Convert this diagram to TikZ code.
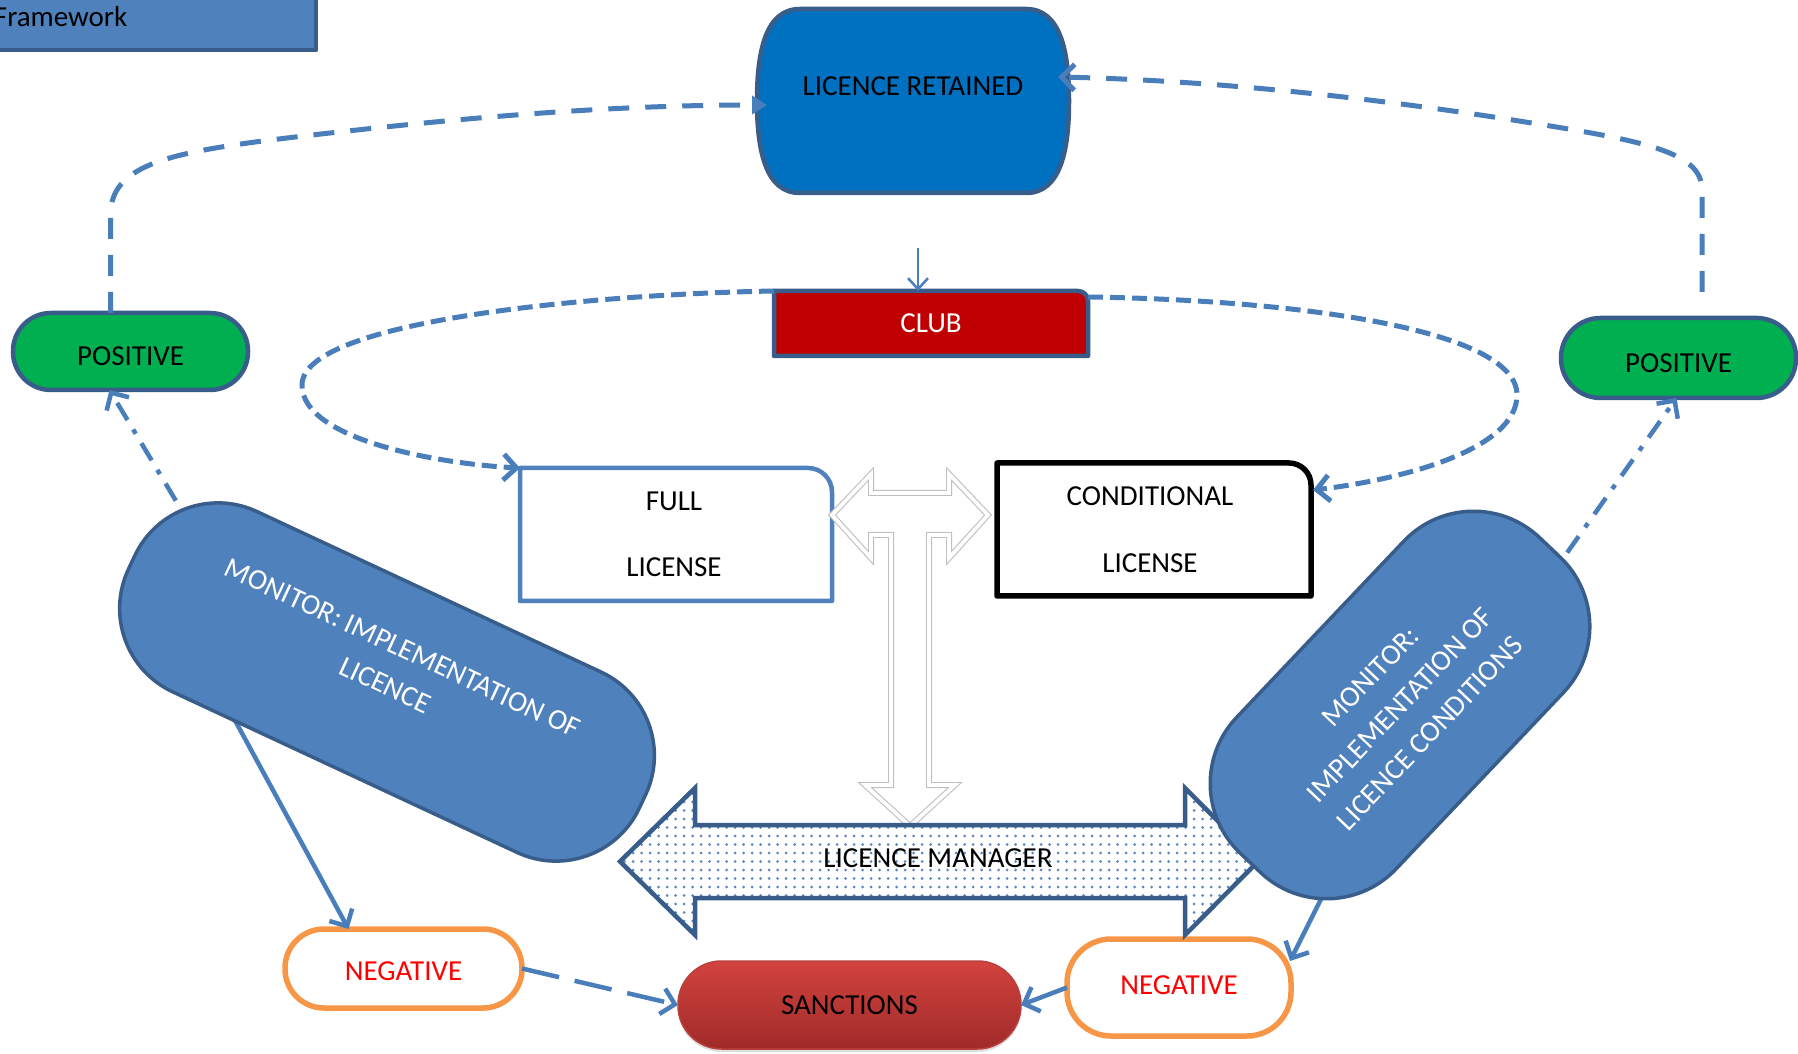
\documentclass[tikz,border=0pt]{standalone}
\usepackage{fontspec}
\setmainfont{Carlito}
\usetikzlibrary{arrows.meta,calc,shadows}

\definecolor{lineblue}{HTML}{4A7EBB}
\definecolor{edgeblue}{HTML}{385D8A}
\definecolor{monblue}{HTML}{4F81BD}
\definecolor{retblue}{HTML}{0070C0}
\definecolor{clubred}{HTML}{C00000}
\definecolor{posgreen}{HTML}{00B050}
\definecolor{negorange}{HTML}{F79646}
\definecolor{negred}{HTML}{FF0000}
\definecolor{sanctop}{HTML}{D2433E}
\definecolor{sancbot}{HTML}{A02A29}
\definecolor{sancedge}{HTML}{B8403D}
\definecolor{tgray}{HTML}{BFBFBF}
\definecolor{dotblue}{HTML}{5A86C2}

\tikzset{
  every node/.style={font=\fontsize{29pt}{35pt}\selectfont, inner sep=0pt, outer sep=0pt},
  posbox/.style={fill=posgreen, draw=edgeblue, line width=4.5pt},
  negbox/.style={fill=white, draw=negorange, line width=5.5pt},
  monbox/.style={fill=monblue, draw=edgeblue, line width=3.5pt},
  montext/.style={text=white, align=center, font=\fontsize{29pt}{41pt}\selectfont},
  conn/.style={draw=lineblue, line width=5pt},
  thinconn/.style={draw=lineblue, line width=4.5pt},
  vtip/.style={-{Straight Barb[length=13pt,width=26pt]}},
  lnTop/.style={dash pattern=on 21pt off 16pt},
  lnClub/.style={dash pattern=on 15pt off 7pt},
  lnDD/.style={dash pattern=on 20pt off 11pt on 5pt off 11pt},
  lnLong/.style={dash pattern=on 38pt off 16pt},
}

\begin{document}
\begin{tikzpicture}[x=1pt,y=1pt,line join=round]
\useasboundingbox (0,0) rectangle (1798,1053);
\clip (0,0) rectangle (1798,1053);

% header tab
\node[fill=monblue, draw=edgeblue, line width=4.5pt, minimum width=340pt, minimum height=64pt, anchor=north east] (frame) at (316,1067) {};
\node[anchor=base west] (frametext) at (-6,1026) {Framework};

% licence retained
\node[minimum width=312pt, minimum height=184pt] (retained) at (913,952) {};
\begin{scope}[shift={(retained.center)}]
  \filldraw[fill=retblue, draw=edgeblue, line width=4.5pt]
    (-113,92) -- (113,92) .. controls (147,92) and (156,51) .. (156,0)
    .. controls (156,-51) and (147,-92) .. (113,-92) -- (-113,-92)
    .. controls (-147,-92) and (-156,-51) .. (-156,0)
    .. controls (-156,51) and (-147,92) .. (-113,92) -- cycle;
\end{scope}
\node (rettext) at ($(retained.center)+(0,15)$) {LICENCE RETAINED};

% club
\node[minimum width=314pt, minimum height=65pt] (club) at (931,729.5) {};
\filldraw[fill=clubred, draw=edgeblue, line width=4.5pt]
  (club.south west) -- (club.north west) -- ($(club.north east)+(-10,0)$)
  arc[start angle=90, end angle=0, radius=10] -- (club.south east) -- cycle;
\node[text=white] (clubtext) at (club.center) {CLUB};

% licence types
\node[minimum width=312pt, minimum height=133pt] (full) at (676,518.5) {};
\filldraw[fill=white, draw=monblue, line width=4.5pt]
  (full.south west) -- (full.north west) -- ($(full.north east)+(-24,0)$)
  arc[start angle=90, end angle=0, radius=24] -- (full.south east) -- cycle;
\node[align=center] (fulltext) at ($(full.center)+(-2,0)$) {FULL\\[31pt]LICENSE};

\node[minimum width=314pt, minimum height=133pt] (cond) at (1154,523.5) {};
\filldraw[fill=white, draw=black, line width=5.5pt]
  (cond.south west) -- (cond.north west) -- ($(cond.north east)+(-22,0)$)
  arc[start angle=90, end angle=0, radius=22] -- (cond.south east) -- cycle;
\node[align=center] (condtext) at ($(cond.center)+(-4,0)$) {CONDITIONAL\\[32pt]LICENSE};

% outcomes
\node[posbox, minimum width=235pt, minimum height=77pt, rounded corners=38pt] (posL) at (130.5,701.5) {};
\node (posLtext) at ($(posL.center)+(0,-5)$) {POSITIVE};
\node[posbox, minimum width=235pt, minimum height=80pt, rounded corners=39.5pt] (posR) at (1678.5,695) {};
\node (posRtext) at ($(posR.center)+(0,-5)$) {POSITIVE};
\node[negbox, minimum width=237pt, minimum height=79pt, rounded corners=39pt] (negL) at (403.5,84.5) {};
\node[text=negred] (negLtext) at ($(negL.center)+(0,-3)$) {NEGATIVE};
\node[negbox, minimum width=224pt, minimum height=97pt, rounded corners=44pt] (negR) at (1179,65.5) {};
\node[text=negred] (negRtext) at ($(negR.center)+(0,2)$) {NEGATIVE};
\node[top color=sanctop, bottom color=sancbot, draw=sancedge, line width=1.5pt,
      drop shadow={opacity=0.25, shadow xshift=0pt, shadow yshift=-3pt},
      minimum width=343pt, minimum height=88pt, rounded corners=43.5pt] (sanctions) at (849.5,48) {SANCTIONS};

% T-shaped outline arrow
\draw[tgray, line width=1.1pt, double=white, double distance=3.8pt, line join=miter]
  (832,538) -- (871,579) -- (871,560) -- (949,560) -- (949,579) -- (988,538)
  -- (949,495) -- (949,518) -- (929,518) -- (929,268) -- (955,268) -- (910,227)
  -- (865,268) -- (891,268) -- (891,518) -- (871,518) -- (871,495) -- cycle;

% licence manager double arrow
\coordinate (mgrc) at (939,191.5);
\begin{scope}[shift={(mgrc)}]
  \fill[white] (-319,0) -- (-244,73.5) -- (-244,36.5) -- (246,36.5) -- (246,73.5) -- (319,0)
    -- (246,-73.5) -- (246,-36.5) -- (-244,-36.5) -- (-244,-73.5) -- cycle;
  \begin{scope}
    \clip (-319,0) -- (-244,73.5) -- (-244,36.5) -- (246,36.5) -- (246,73.5) -- (319,0)
      -- (246,-73.5) -- (246,-36.5) -- (-244,-36.5) -- (-244,-73.5) -- cycle;
    \foreach \i in {-38,...,38}
      \foreach \j in {-9,...,9}
        \fill[dotblue] (\i*8.5, \j*8.5) circle (1.5);
  \end{scope}
  \draw[edgeblue, line width=4.5pt, line join=miter]
    (-319,0) -- (-244,73.5) -- (-244,36.5) -- (246,36.5) -- (246,73.5) -- (319,0)
    -- (246,-73.5) -- (246,-36.5) -- (-244,-36.5) -- (-244,-73.5) -- cycle;
\end{scope}
\node (manager) at ($(mgrc)+(-1,3)$) {LICENCE MANAGER};

% links leaving the monitor shapes (their starts are hidden below the shapes)
\coordinate (mLup) at (200,512);
\coordinate (mLdown) at (225,351);
\coordinate (mRup) at (1540,462);
\coordinate (mRdown) at (1335,182);
\draw[thinconn, lnDD, vtip] (mLup) -- ($(posL.south)+(-21,0)$);
\draw[thinconn, lnDD, vtip] (mRup) -- ($(posR.south)+(-2,0)$);
\draw[thinconn, vtip] (mLdown) -- ($(negL.north)+(-55,0)$);
\draw[thinconn, vtip] (mRdown) -- ($(negR.north east)+(-1,-22)$);

% monitors
\node[monbox, minimum width=564pt, minimum height=199pt, rounded corners=92pt, rotate=-25] (monL) at (387,371) {};
\node[montext, rotate=-25] (monLtext) at ($(monL.center)!0.17!(monL.north)$) {MONITOR: IMPLEMENTATION OF\\LICENCE};
\node[monbox, minimum width=435pt, minimum height=220pt, rounded corners=96pt, rotate=46.5] (monR) at (1400,348) {};
\node[montext, rotate=46.5] (monRtext) at (monR.center) {MONITOR:\\IMPLEMENTATION OF\\LICENCE CONDITIONS};

% retained -> club
\coordinate (clubfeed) at (918,805);
\draw[draw=lineblue, line width=2.5pt, -{Straight Barb[length=11pt,width=20pt]}] (clubfeed) -- ($(club.north)+(-13,0)$);

% club -> licence types
\draw[conn, lnClub, vtip] (club.north west) .. controls (600,759) and (302,733) .. (302,668)
  .. controls (302,613) and (440,589) .. (full.north west);
\draw[conn, lnClub, vtip] ($(club.north east)+(0,-6)$) .. controls (1300,753) and (1517,723) .. (1517,658)
  .. controls (1517,603) and (1400,573) .. ($(cond.east)+(2,39.5)$);

% positive outcomes -> licence retained
\draw[conn, lnTop, -{Triangle[length=15pt,width=18pt]}] ($(posL.north)+(-20,0)$) -- (110.5,838)
  .. controls (110.5,893) and (180,903) .. (330,920)
  .. controls (480,937) and (620,948) .. ($(retained.west)+(10,-4)$);
\draw[conn, lnTop, vtip] ($(posR.north)+(23.5,26)$) -- (1702,863)
  .. controls (1702,903) and (1640,913) .. (1500,935)
  .. controls (1350,958) and (1200,973) .. ($(retained.east)+(-11,24)$);

% negative outcomes -> sanctions
\draw[thinconn, lnLong, vtip] (negL.east) -- (sanctions.west);
\draw[thinconn, vtip] (negR.west) -- (sanctions.east);
\end{tikzpicture}
\end{document}
